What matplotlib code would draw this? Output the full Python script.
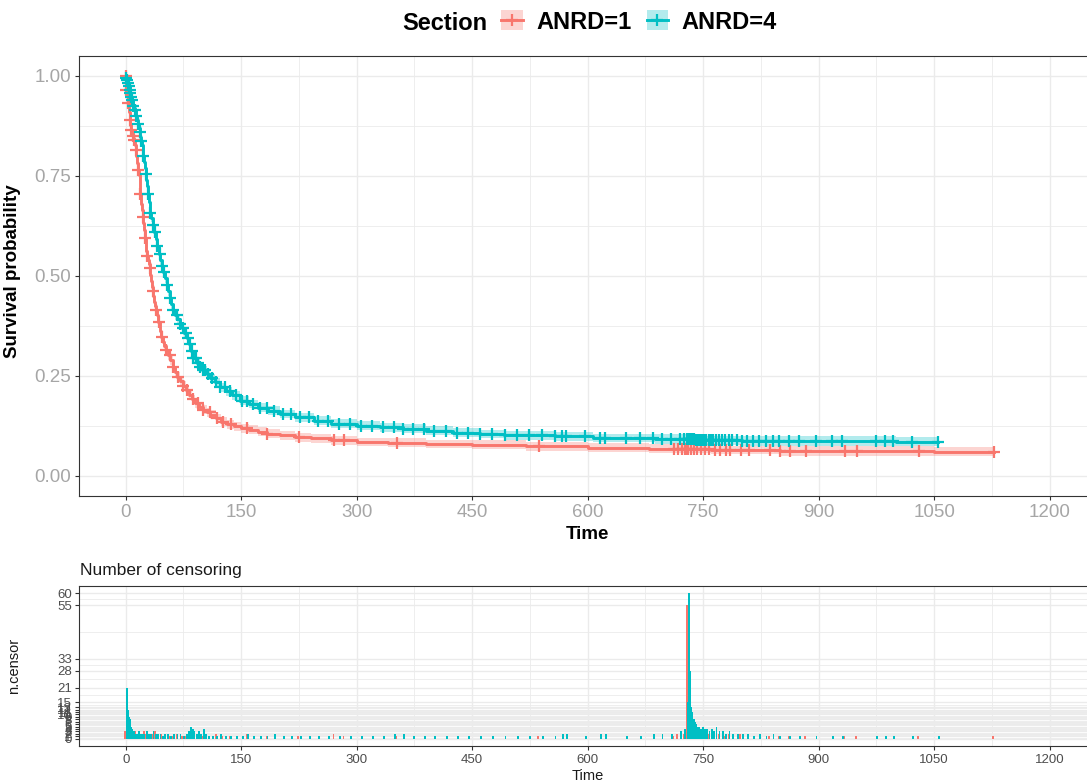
import numpy as np
import matplotlib
matplotlib.use("Agg")
import matplotlib.pyplot as plt
from matplotlib.patches import Patch
from matplotlib.lines import Line2D
from matplotlib.legend_handler import HandlerTuple
from matplotlib.ticker import FixedLocator, MultipleLocator

RED = "#F8766D"
CYAN = "#00BFC4"
GRID = "#EBEBEB"

# Kaplan-Meier step curves (time, survival, CI half width)
red_time = [0, 1, 2, 3, 4, 5, 6, 7, 8, 9,
            10, 11, 12, 13, 14, 15, 16, 17, 18, 19,
            20, 21, 22, 23, 24, 25, 26, 27, 28, 29,
            30, 31, 32, 33, 34, 35, 36, 37, 38, 39,
            40, 42, 44, 46, 48, 50, 52, 55, 58, 61,
            64, 67, 70, 74, 78, 82, 86, 90, 95, 100,
            105, 110, 117, 124, 131, 140, 150, 160, 172, 184,
            200, 220, 240, 267, 300, 340, 390, 450, 520, 600,
            680, 760, 850, 950, 1050, 1128]
red_surv = [1.000, .965, .950, .932, .910, .890, .878, .866, .857, .849,
            .845, .840, .828, .816, .800, .783, .766, .752, .728, .704,
            .680, .664, .648, .632, .615, .594, .575, .562, .551, .541,
            .531, .520, .503, .487, .473, .462, .449, .436, .424, .414,
            .402, .385, .362, .347, .336, .326, .316, .302, .290, .273,
            .260, .248, .238, .226, .215, .203, .192, .182, .173, .166,
            .159, .153, .145, .136, .129, .124, .119, .116, .111, .106,
            .102, .097, .094, .089, .085, .083, .080, .078, .074, .071,
            .068, .065, .063, .062, .061, .061]
red_ci = [0.0, .004, .005, .006, .007, .008, .008, .009, .009, .009,
          .010, .010, .010, .011, .011, .011, .012, .012, .012, .012,
          .013, .013, .013, .013, .013, .013, .013, .013, .013, .013,
          .013, .013, .013, .013, .013, .013, .013, .013, .013, .013,
          .013, .013, .013, .012, .012, .012, .012, .012, .012, .012,
          .011, .011, .011, .011, .011, .011, .011, .011, .011, .011,
          .011, .011, .011, .011, .011, .011, .011, .011, .011, .011,
          .011, .011, .011, .011, .011, .011, .011, .011, .011, .011,
          .011, .011, .012, .012, .012, .012]

cyan_time = [0, 1, 2, 3, 4, 5, 6, 7, 8, 9,
             10, 11, 12, 13, 14, 15, 16, 17, 18, 19,
             20, 21, 22, 23, 24, 25, 26, 27, 28, 29,
             30, 31, 32, 33, 35, 37, 39, 41, 43, 45,
             47, 49, 51, 53, 55, 57, 59, 61, 64, 67,
             70, 73, 76, 79, 82, 85, 88, 92, 96, 100,
             105, 110, 116, 123, 130, 138, 149, 160, 172, 185,
             200, 220, 245, 267, 300, 330, 360, 390, 425, 460,
             491, 557, 607, 688, 740, 800, 900, 1000, 1055]
cyan_surv = [1.000, .995, .990, .983, .975, .966, .957, .948, .940, .932,
             .926, .920, .915, .910, .900, .890, .880, .870, .860, .848,
             .838, .828, .815, .800, .785, .770, .755, .740, .725, .705,
             .685, .670, .658, .646, .628, .610, .592, .574, .556, .540,
             .526, .510, .494, .478, .462, .446, .430, .416, .403, .392,
             .381, .370, .358, .346, .330, .312, .296, .283, .272, .264,
             .255, .245, .235, .222, .212, .202, .188, .180, .171, .163,
             .155, .147, .138, .131, .126, .122, .118, .113, .108, .105,
             .102, .099, .095, .092, .089, .088, .087, .086, .085]
cyan_ci = [0.0, .003, .004, .005, .006, .006, .007, .007, .008, .008,
           .008, .009, .009, .009, .010, .010, .010, .011, .011, .011,
           .012, .012, .012, .012, .012, .012, .012, .012, .012, .012,
           .012, .012, .012, .012, .012, .012, .012, .012, .012, .012,
           .012, .012, .012, .012, .012, .012, .012, .012, .012, .012,
           .012, .012, .012, .012, .012, .011, .011, .011, .011, .011,
           .011, .011, .011, .011, .011, .011, .011, .011, .011, .011,
           .011, .011, .011, .011, .011, .011, .011, .011, .011, .011,
           .011, .011, .011, .012, .012, .012, .012, .012, .012]

# censoring times and counts per time
red_cens_t = [0, 1, 3, 5, 7, 9, 11, 13, 16, 19,
              22, 25, 28, 31, 35, 39, 43, 47, 52, 57,
              62, 68, 74, 80, 87, 94, 101, 109, 118, 127,
              137, 158, 184, 225, 271, 284, 352, 537, 712, 717,
              722, 726, 728, 730, 734, 738, 742, 747, 752, 758,
              765, 772, 780, 785, 799, 810, 837, 850, 863, 883,
              934, 950, 1030, 1128]
red_cens_n = [3, 2, 6, 4, 3, 2, 2, 3, 2, 1,
              2, 3, 2, 1, 2, 3, 1, 2, 2, 1,
              1, 2, 1, 1, 2, 1, 1, 1, 2, 1,
              1, 2, 1, 1, 2, 1, 1, 1, 1, 2,
              2, 2, 3, 55, 2, 3, 2, 2, 1, 2,
              1, 2, 1, 2, 2, 1, 1, 1, 1, 1,
              1, 1, 1, 1]

cyan_cens_t = [1, 2, 3, 4, 5, 6, 7, 8, 10, 12,
               14, 16, 18, 20, 23, 26, 29, 32, 35, 38,
               41, 44, 47, 50, 54, 58, 62, 66, 70, 74,
               78, 81, 84, 86, 88, 91, 94, 97, 100, 103,
               107, 112, 117, 123, 129, 136, 143, 151, 158, 165,
               174, 183, 193, 204, 215, 226, 238, 250, 263, 277,
               291, 306, 320, 334, 348, 360, 373, 387, 401, 416,
               430, 445, 460, 476, 492, 508, 524, 541, 557, 567,
               572, 597, 616, 623, 650, 668, 685, 696, 708, 720,
               725, 729, 730, 731, 732, 733, 734, 735, 736, 737,
               738, 740, 742, 744, 746, 748, 751, 754, 757, 760,
               763, 766, 770, 774, 778, 783, 788, 794, 800, 807,
               815, 823, 831, 840, 848, 861, 874, 896, 917, 930,
               974, 986, 997, 1021, 1055]
cyan_cens_n = [21, 12, 9, 8, 7, 5, 4, 3, 3, 2,
               2, 3, 2, 2, 2, 3, 2, 2, 3, 2,
               2, 2, 1, 2, 2, 1, 2, 2, 2, 1,
               2, 3, 5, 4, 3, 2, 3, 2, 4, 2,
               1, 1, 1, 2, 1, 1, 1, 1, 2, 1,
               1, 1, 2, 1, 1, 1, 1, 1, 1, 1,
               1, 1, 1, 1, 2, 2, 1, 1, 1, 1,
               1, 1, 1, 1, 1, 1, 1, 1, 1, 2,
               2, 1, 2, 2, 1, 1, 2, 2, 2, 3,
               4, 15, 60, 33, 28, 13, 11, 10, 8, 8,
               7, 6, 5, 5, 4, 5, 4, 4, 3, 4,
               3, 5, 3, 3, 2, 3, 2, 2, 2, 2,
               1, 2, 1, 2, 1, 1, 1, 1, 1, 1,
               1, 1, 1, 1, 1]

x_ticks = [0, 150, 300, 450, 600, 750, 900, 1050, 1200]
y_ticks = [0.0, 0.25, 0.5, 0.75, 1.0]
y_ticklabels = ["0.00", "0.25", "0.50", "0.75", "1.00"]
groups = ["ANRD=1", "ANRD=4"]


def surv_at(times, surv, t):
    idx = np.searchsorted(np.asarray(times), np.asarray(t), side="right") - 1
    return np.asarray(surv)[idx]


plt.rcParams.update({"font.family": ["Liberation Sans", "DejaVu Sans"]})

W, H = 1087, 782
# panels run past the right edge of the picture, as in the reference
PL, PW = 79.5, 1016.4
fig = plt.figure(figsize=(W / 100, H / 100), dpi=100)
ax = fig.add_axes([PL / W, 1 - 496 / H, PW / W, 440 / H])
cax = fig.add_axes([PL / W, 1 - 746 / H, PW / W, 160 / H])

curves = [
    (red_time, red_surv, red_ci, red_cens_t, RED),
    (cyan_time, cyan_surv, cyan_ci, cyan_cens_t, CYAN),
]

# --- survival panel ---
for t, s, ci, ct, color in curves:
    s = np.asarray(s)
    ci = np.asarray(ci)
    ax.fill_between(t, s - ci, s + ci, step="post", color=color, alpha=0.3, lw=0)
for t, s, ci, ct, color in curves:
    ax.step(t, s, where="post", color=color, lw=2.1)
for t, s, ci, ct, color in curves:
    ax.plot(ct, surv_at(t, s, ct), ls="none", marker="+", ms=8.5, mew=1.6, color=color)

ax.set_xlim(-60, 1260)
ax.set_ylim(-0.05, 1.05)
ax.set_xticks(x_ticks)
ax.set_yticks(y_ticks)
ax.set_yticklabels(y_ticklabels)
ax.xaxis.set_minor_locator(MultipleLocator(75))
ax.yaxis.set_minor_locator(MultipleLocator(0.125))
ax.grid(which="major", color=GRID, lw=1.0)
ax.grid(which="minor", color=GRID, lw=0.6)
ax.set_axisbelow(True)
ax.tick_params(which="minor", length=0)
ax.tick_params(which="major", length=3, width=0.8, color="#333333",
               labelcolor="#A6A6A6", labelsize=13.5, pad=3)
for sp in ax.spines.values():
    sp.set_color("#333333")
    sp.set_linewidth(0.8)
ax.set_xlabel("Time", fontsize=13.5, fontweight="bold")
ax.xaxis.set_label_coords(0.5, -0.069)
ax.set_ylabel("Survival probability", fontsize=13.5, fontweight="bold")
ax.yaxis.set_label_coords(-0.058, 0.51)

# --- legend ---
handles = [
    (Patch(facecolor=RED, alpha=0.3, lw=0),
     Line2D([], [], color=RED, lw=2.1, marker="+", ms=9, mew=1.6)),
    (Patch(facecolor=CYAN, alpha=0.3, lw=0),
     Line2D([], [], color=CYAN, lw=2.1, marker="+", ms=9, mew=1.6)),
]
fig.legend(handles, groups, handler_map={tuple: HandlerTuple(ndivide=1, pad=0)},
           ncol=2, loc="center left", bbox_to_anchor=(501 / W, 1 - 22 / H),
           frameon=False, prop={"weight": "bold", "size": 17},
           handlelength=0.92, handleheight=0.92, handletextpad=0.57,
           columnspacing=0.64, borderpad=0, borderaxespad=0)
fig.text(402 / W, 1 - 24 / H, "Section", ha="left", va="center",
         fontsize=17, fontweight="bold")

# --- censoring panel ---
bw = 2.4
cax.bar(np.asarray(red_cens_t) - bw / 2, red_cens_n, width=bw, color=RED, lw=0)
cax.bar(np.asarray(cyan_cens_t) + bw / 2, cyan_cens_n, width=bw, color=CYAN, lw=0)

levels = np.unique(np.concatenate([[0], red_cens_n, cyan_cens_n]))
cax.set_xlim(-60, 1260)
cax.set_ylim(-3, 63)
cax.set_xticks(x_ticks)
cax.xaxis.set_minor_locator(MultipleLocator(75))
cax.set_yticks(levels)
cax.yaxis.set_minor_locator(FixedLocator((levels[:-1] + levels[1:]) / 2))
cax.grid(which="major", color=GRID, lw=1.0)
cax.grid(which="minor", color=GRID, lw=0.6)
cax.set_axisbelow(True)
cax.tick_params(which="minor", length=0)
cax.tick_params(which="major", length=3, width=0.8, color="#333333",
                labelcolor="#4D4D4D", labelsize=9.5, pad=2.5)
for sp in cax.spines.values():
    sp.set_color("#333333")
    sp.set_linewidth(0.8)
cax.set_ylabel("n.censor", fontsize=10.5, color="#1A1A1A")
cax.yaxis.set_label_coords(-0.058, 0.5)
cax.set_xlabel("Time", fontsize=10.5, color="#1A1A1A")
cax.xaxis.set_label_coords(0.5, -0.145)
fig.text(80 / W, 1 - 571 / H, "Number of censoring", ha="left", va="center",
         fontsize=12.5, color="#1A1A1A")

fig.savefig("out.png", dpi=100)
